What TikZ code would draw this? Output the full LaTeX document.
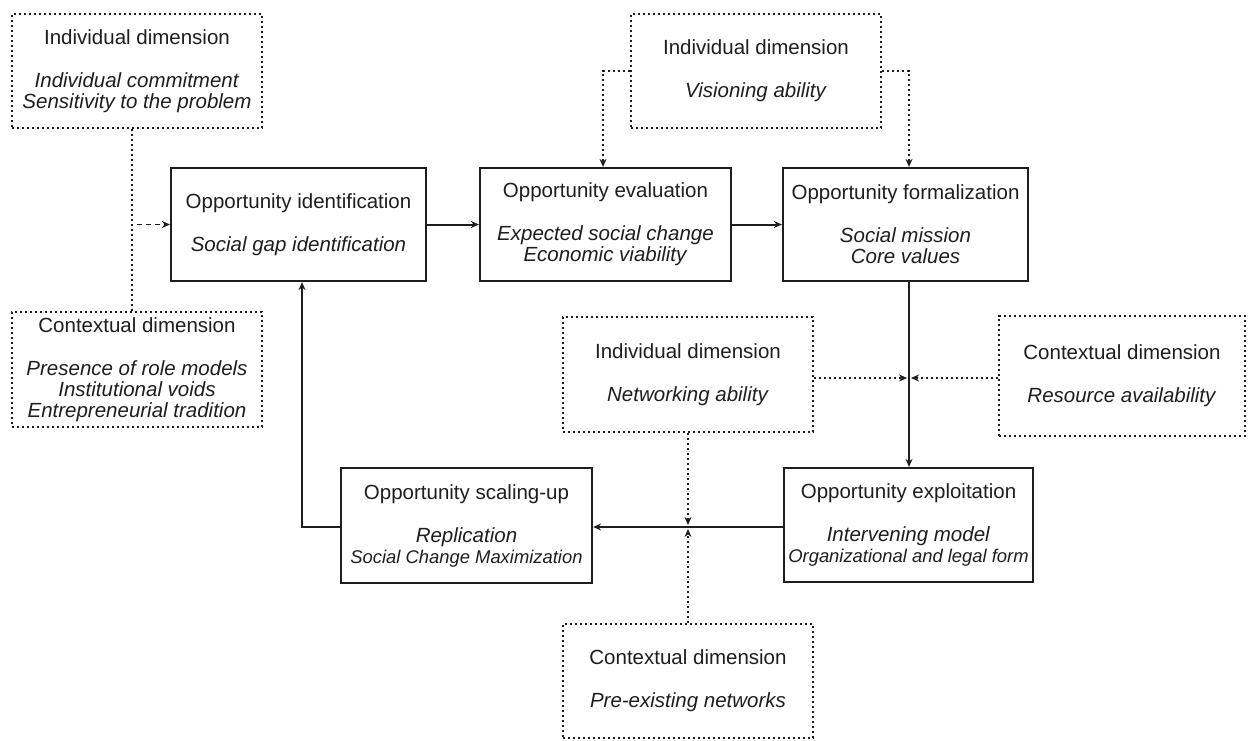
\documentclass[tikz,border=0pt]{standalone}
\usepackage{fontspec}
\setmainfont{Liberation Sans}
\usetikzlibrary{arrows.meta,calc}
\definecolor{ink}{HTML}{1E1E1E}
\tikzset{
  box/.style={draw=ink, line width=2.2pt, align=center, inner sep=0pt, text=ink,
    font=\fontsize{20.5}{21}\selectfont},
  dimbox/.style={box, line width=2pt, dash pattern=on 2.4pt off 2.6pt},
  flow/.style={draw=ink, line width=2pt, -{Stealth[length=8pt,width=7pt]}},
  influence/.style={draw=ink, line width=2pt, dash pattern=on 2.4pt off 2.6pt,
    -{Stealth[length=8pt,width=7pt]}},
  link/.style={draw=ink, line width=2pt, dash pattern=on 2.4pt off 2.6pt},
  feed/.style={draw=ink, line width=1.8pt, dash pattern=on 5pt off 4pt,
    -{Stealth[length=8pt,width=7pt]}}
}
\newcommand{\ttl}[1]{#1\\[22pt]}
\newcommand{\narrowline}{\fontsize{18.4}{21}\selectfont}
\begin{document}
\begin{tikzpicture}[x=1pt,y=-1pt]
\useasboundingbox (0,0) rectangle (1248,741);

% process steps
\node[box, minimum width=255pt, minimum height=113pt] (oi) at (298.5,224.5)
  {\ttl{Opportunity identification}\textit{Social gap identification}};
\node[box, minimum width=251pt, minimum height=113pt] (oe) at (605.5,224.5)
  {\ttl{Opportunity evaluation}\textit{Expected social change}\\\textit{Economic viability}};
\node[box, minimum width=245pt, minimum height=113pt] (of) at (905.5,224.5)
  {\ttl{Opportunity formalization}\textit{Social mission}\\\textit{Core values}};
\node[box, minimum width=249pt, minimum height=114pt] (ex) at (908.5,525)
  {\ttl{Opportunity exploitation}\textit{Intervening model}\\{\narrowline\textit{Organizational and legal form}}};
\node[box, minimum width=251pt, minimum height=115pt] (sc) at (466.5,525.5)
  {\ttl{Opportunity scaling-up}\textit{Replication}\\{\narrowline\textit{Social Change Maximization}}};

% influencing dimensions
\node[dimbox, minimum width=250pt, minimum height=114pt] (ind1) at (137,71)
  {\ttl{Individual dimension}\textit{Individual commitment}\\\textit{Sensitivity to the problem}};
\node[dimbox, minimum width=250pt, minimum height=115pt] (ctx1) at (137,369.5)
  {\ttl{Contextual dimension}\textit{Presence of role models}\\\textit{Institutional voids}\\\textit{Entrepreneurial tradition}};
\node[dimbox, minimum width=250pt, minimum height=114pt] (vis) at (756,71)
  {\ttl{Individual dimension}\textit{Visioning ability}};
\node[dimbox, minimum width=250pt, minimum height=115pt] (net) at (688,374.5)
  {\ttl{Individual dimension}\textit{Networking ability}};
\node[dimbox, minimum width=246pt, minimum height=120pt] (res) at (1122,376)
  {\ttl{Contextual dimension}\textit{Resource availability}};
\node[dimbox, minimum width=250pt, minimum height=114pt] (pre) at (688,681)
  {\ttl{Contextual dimension}\textit{Pre-existing networks}};

% main flow
\coordinate (fx) at (909,0);
\coordinate (sx) at (688,527);
\coordinate (bx) at (302,0);
\draw[flow] (oi.east) -- (oe.west);
\draw[flow] (oe.east) -- (of.west);
\draw[flow] (of.south -| fx) -- (ex.north -| fx);
\draw[flow] (ex.west |- sx) -- (sc.east |- sx);
\draw[flow] (sc.west |- sx) -| (oi.south -| bx);

% identification influences
\coordinate (jx) at (132,224.5);
\draw[link] (ind1.south -| jx) -- (ctx1.north -| jx);
\draw[feed] ($(jx)+(5,0)$) -- (oi.west);

% visioning ability
\coordinate (ex1) at (603,0);
\draw[influence] (vis.west) -| (oe.north -| ex1);
\draw[influence] (vis.east) -| (of.north -| fx);

% exploitation influences
\coordinate (mx) at (909,378);
\draw[influence] (net.east |- mx) -- ($(mx)+(-2,0)$);
\draw[influence] (res.west |- mx) -- ($(mx)+(2,0)$);

% scaling-up influences
\draw[influence] (net.south) -- ($(sx)+(0,-2)$);
\draw[influence] (pre.north) -- ($(sx)+(0,2)$);
\end{tikzpicture}
\end{document}
